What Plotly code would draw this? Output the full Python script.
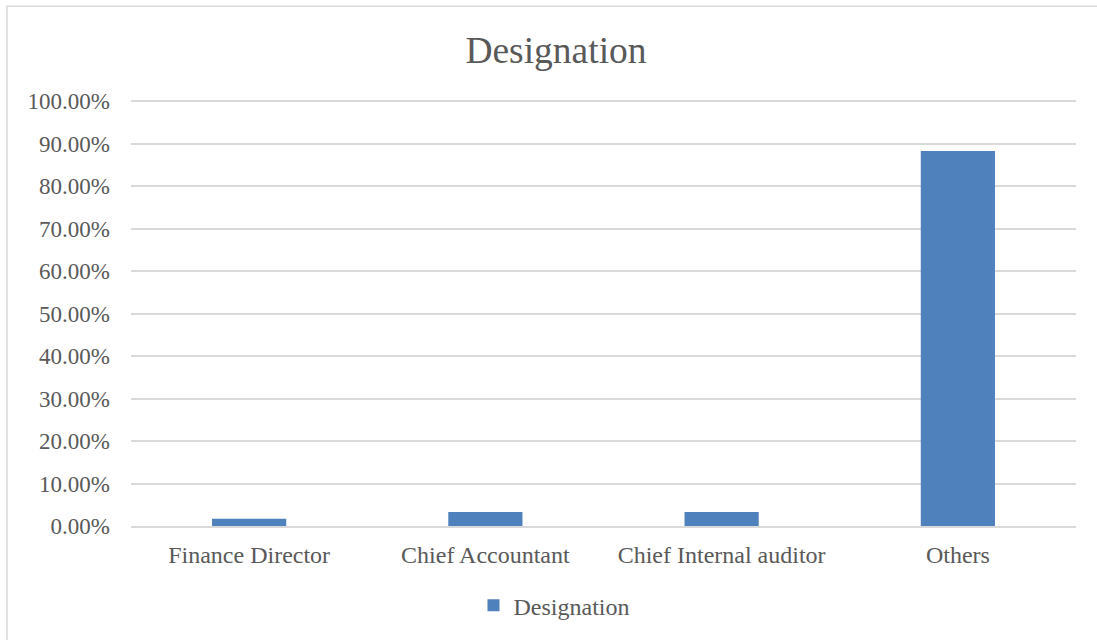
import plotly.graph_objects as go

categories = ["Finance Director", "Chief Accountant", "Chief Internal auditor", "Others"]
values = [0.017, 0.033, 0.033, 0.883]
series_name = "Designation"
title_text = "Designation"

W, H = 1097, 640
L, R, T, B = 131, 1076, 101, 528
YMAX = 1.003
T_adj = B - (B - T) * YMAX  # so that 100% sits at y=101

fig = go.Figure()
fig.add_trace(go.Bar(x=categories, y=values, name=series_name,
                     marker=dict(color="#4f81bd", line=dict(width=0)),
                     showlegend=True))

def px_x(x):
    return (x - L) / (R - L)

def px_y(y):
    return (B - y) / (B - T_adj)

fig.add_shape(type="rect", xref="paper", yref="paper",
              x0=px_x(7), x1=px_x(1110), y0=px_y(660), y1=px_y(5.5),
              line=dict(color="#d9d9d9", width=1.5), fillcolor="rgba(0,0,0,0)",
              layer="below")

font_family = "Liberation Serif, Times New Roman, serif"
fig.update_layout(
    width=W, height=H,
    margin=dict(l=L, r=W - R, t=T_adj, b=H - B, pad=0),
    paper_bgcolor="white", plot_bgcolor="white",
    font=dict(family=font_family, color="#595959", size=24),
    title=dict(text=title_text, x=556 / W, xanchor="center", xref="container",
               y=1 - 50 / H, yanchor="middle", yref="container",
               font=dict(size=37.5, color="#595959", family=font_family)),
    bargap=0.686,
    showlegend=True,
    legend=dict(orientation="h", x=px_x(554), xanchor="center",
                y=px_y(608), yanchor="middle",
                font=dict(size=24, color="#595959"),
                itemwidth=30, tracegroupgap=0),
    xaxis=dict(showgrid=False, showline=True, linecolor="#d9d9d9", linewidth=1.5,
               ticks="", ticklabelstandoff=6, tickfont=dict(size=24, color="#595959")),
    yaxis=dict(range=[0, YMAX], tickvals=[i / 10 for i in range(11)], tickformat=".2%",
               showgrid=True, gridcolor="#d9d9d9", gridwidth=1.5, zeroline=False,
               showline=False, ticks="", ticklabelstandoff=20,
               tickfont=dict(size=23, color="#595959")),
)

fig.write_html("out.html", config={"displayModeBar": False},
               post_script="document.body.style.margin='0';")
